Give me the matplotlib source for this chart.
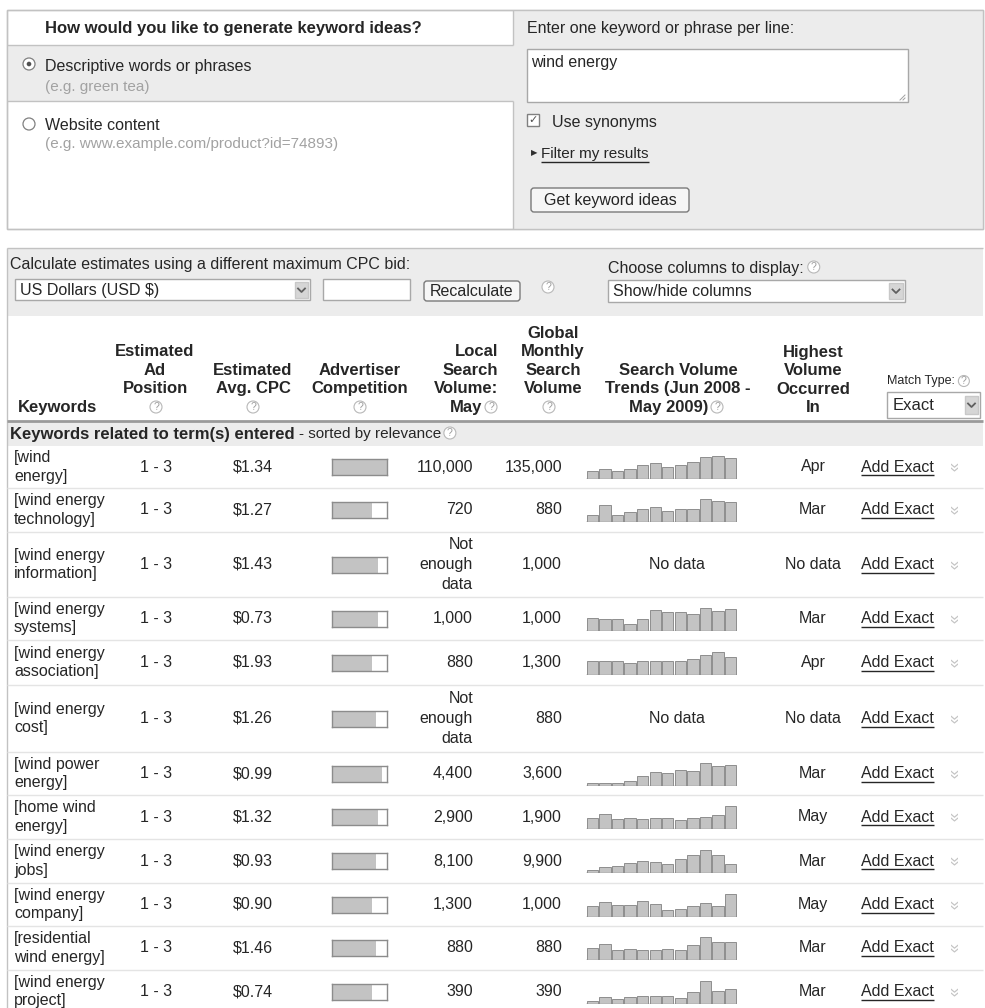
import matplotlib
matplotlib.use('Agg')
import matplotlib.pyplot as plt
from matplotlib.patches import Rectangle, Circle, FancyBboxPatch

plt.rcParams['font.family'] = ['Liberation Sans', 'DejaVu Sans']
plt.rcParams['text.parse_math'] = False

W, H = 985, 1008

# table data
keywords = ["[wind\nenergy]", "[wind energy\ntechnology]", "[wind energy\ninformation]",
            "[wind energy\nsystems]", "[wind energy\nassociation]", "[wind energy\ncost]",
            "[wind power\nenergy]", "[home wind\nenergy]", "[wind energy\njobs]",
            "[wind energy\ncompany]", "[residential\nwind energy]", "[wind energy\nproject]"]
ad_position = ["1 - 3"] * 12
avg_cpc = ["$1.34", "$1.27", "$1.43", "$0.73", "$1.93", "$1.26",
           "$0.99", "$1.32", "$0.93", "$0.90", "$1.46", "$0.74"]
competition = [1.0, 0.73, 0.84, 0.84, 0.73, 0.80, 0.91, 0.84, 0.80, 0.73, 0.80, 0.73]
local_volume = ["110,000", "720", "Not\nenough\ndata", "1,000", "880", "Not\nenough\ndata",
                "4,400", "2,900", "8,100", "1,300", "880", "390"]
global_volume = ["135,000", "880", "1,000", "1,000", "1,300", "880",
                 "3,600", "1,900", "9,900", "1,000", "880", "390"]
# Jun 2008 .. May 2009, relative heights
trends = [
    [.35, .43, .35, .46, .63, .71, .55, .63, .77, .98, 1.0, .95],
    [.33, .76, .33, .45, .58, .65, .50, .58, .58, 1.0, .94, .88],
    None,
    [.57, .49, .49, .31, .49, .90, .82, .82, .74, 1.0, .87, .97],
    [.58, .58, .58, .52, .58, .58, .58, .58, .70, .88, 1.0, .76],
    None,
    [.12, .12, .12, .20, .40, .60, .55, .70, .65, 1.0, .85, .90],
    [.50, .65, .45, .50, .45, .50, .50, .40, .50, .55, .60, 1.0],
    [.15, .25, .30, .45, .55, .50, .42, .60, .80, 1.0, .80, .40],
    [.45, .65, .50, .50, .70, .55, .30, .35, .45, .60, .45, 1.0],
    [.55, .70, .45, .50, .45, .45, .50, .45, .65, 1.0, .80, .80],
    [.10, .30, .20, .30, .35, .35, .35, .25, .50, 1.0, .55, .65],
]
highest = ["Apr", "Mar", "No data", "Mar", "Apr", "No data",
           "Mar", "May", "Mar", "May", "Mar", "Mar"]

row_edges = [446, 488, 532, 597, 640, 685, 752, 795, 839, 883, 926, 970, 1013]

PANEL = '#ececec'
BORDER = '#c2c2c2'
TXT = '#262626'
LIGHT = '#a2a2a2'
FS = 11.5
FB = 12

fig = plt.figure(figsize=(W / 100, H / 100), dpi=100)
fig.patch.set_facecolor('white')
ax = fig.add_axes([0, 0, 1, 1])
ax.set_xlim(0, W)
ax.set_ylim(H, 0)
ax.axis('off')
renderer = fig.canvas.get_renderer()


def box(x0, y0, x1, y1, fc='white', ec=BORDER, lw=1.0, z=1):
    ax.add_patch(Rectangle((x0, y0), x1 - x0, y1 - y0, facecolor=fc,
                           edgecolor=ec, linewidth=lw, zorder=z))


def button(x0, y0, x1, y1, label):
    ax.add_patch(FancyBboxPatch((x0, y0), x1 - x0, y1 - y0,
                                boxstyle='round,pad=0,rounding_size=3',
                                facecolor='#f6f6f6', edgecolor='#7a7a7a', lw=1.0, zorder=3))
    ax.text((x0 + x1) / 2, (y0 + y1) / 2 + 1, label, ha='center', va='center',
            fontsize=FS, color=TXT, zorder=4)


def hline(y, x0, x1, color=BORDER, lw=1.0, z=2):
    ax.plot([x0, x1], [y, y], color=color, lw=lw, zorder=z, solid_capstyle='butt')


def vline(x, y0, y1, color=BORDER, lw=1.0, z=2):
    ax.plot([x, x], [y0, y1], color=color, lw=lw, zorder=z, solid_capstyle='butt')


def help_icon(x, y, r=6):
    ax.add_patch(Circle((x, y), r, facecolor='white', edgecolor='#b8b8b8', lw=0.8, zorder=5))
    ax.text(x, y + 0.5, '?', fontsize=7.5, color='#9c9c9c', ha='center', va='center', zorder=6)


def extent(t):
    bb = t.get_window_extent(renderer=renderer)
    inv = ax.transData.inverted()
    (x0, ya), (x1, yb) = inv.transform([[bb.x0, bb.y0], [bb.x1, bb.y1]])
    return x0, x1, min(ya, yb), max(ya, yb)


def drop_arrow(x0, y0, x1, y1):
    box(x0, y0, x1, y1, fc='#d6d6d6', ec='#c8c8c8', z=4)
    cx, cy = (x0 + x1) / 2, (y0 + y1) / 2
    ax.plot([cx - 3.5, cx, cx + 3.5], [cy - 1.5, cy + 2, cy - 1.5], color='#606060', lw=1.3, zorder=5)


def underline(t, dy=7):
    x0, x1, _, _ = extent(t)
    y = t.get_position()[1]
    hline(y + dy, x0, x1, color=TXT, lw=1.0, z=5)


# ---------------- top form ----------------
box(7, 10, 983, 229, fc='white', ec=BORDER)
box(513, 10, 983, 229, fc=PANEL, ec='none', z=1.5)
box(7, 45, 513, 101, fc=PANEL, ec='none', z=1.5)
hline(10, 7, 983)
hline(229, 7, 983)
hline(45, 7, 513)
hline(101, 7, 513)
vline(7, 10, 229)
vline(983, 10, 229)
vline(513, 10, 45)
vline(513, 101, 229)

ax.text(233, 28, "How would you like to generate keyword ideas?", ha='center', va='center',
        fontsize=FB, fontweight='bold', color=TXT)
ax.add_patch(Circle((29, 64), 6, facecolor='white', edgecolor='#808080', lw=0.9, zorder=4))
ax.add_patch(Circle((29, 64), 2.3, facecolor='#505050', edgecolor='none', zorder=5))
ax.text(45, 66, "Descriptive words or phrases", va='center', fontsize=FS, color=TXT)
ax.text(45, 87, "(e.g. green tea)", va='center', fontsize=FS - 0.5, color=LIGHT)
ax.add_patch(Circle((29, 124), 6, facecolor='white', edgecolor='#808080', lw=0.9, zorder=4))
ax.text(45, 125, "Website content", va='center', fontsize=FS, color=TXT)
ax.text(45, 144, "(e.g. www.example.com/product?id=74893)", va='center', fontsize=FS - 0.5, color=LIGHT)

ax.text(527, 28, "Enter one keyword or phrase per line:", va='center', fontsize=FS, color=TXT)
box(527, 49, 908, 102, fc='white', ec='#a8a8a8', z=3)
ax.text(531, 62, "wind energy", va='center', fontsize=FS, color=TXT, zorder=4)
ax.plot([900, 905], [100, 95], color='#a0a0a0', lw=0.7, zorder=4)
ax.plot([903, 905], [100, 98], color='#a0a0a0', lw=0.7, zorder=4)
box(527, 114, 539, 126, fc='white', ec='#808080', z=3)
ax.text(533, 120.5, '\u2713', ha='center', va='center', fontsize=8, color='#505050', zorder=4)
ax.text(552, 122, "Use synonyms", va='center', fontsize=FS, color=TXT)
ax.text(531, 154, '\u25B6', va='center', fontsize=6, color='#303030')
t = ax.text(541, 154, "Filter my results", va='center', fontsize=FS - 0.5, color=TXT)
underline(t, dy=8)
button(531, 188, 689, 212, "Get keyword ideas")

# ---------------- estimates bar ----------------
box(7, 248, 983, 316, fc=PANEL, ec='none', z=1.5)
hline(248, 7, 983)
vline(7, 248, H)
ax.text(10, 264, "Calculate estimates using a different maximum CPC bid:", va='center',
        fontsize=FS, color=TXT)
box(15, 279, 310, 300, fc='white', ec='#a8a8a8', z=3)
ax.text(20, 290, "US Dollars (USD $)", va='center', fontsize=FS, color=TXT, zorder=4)
drop_arrow(295, 282, 308, 298)
box(323, 279, 410, 300, fc='white', ec='#a8a8a8', z=3)
button(424, 281, 520, 301, "Recalculate")
help_icon(548, 287)
t = ax.text(608, 268, "Choose columns to display:", va='center', fontsize=FS, color=TXT)
help_icon(extent(t)[1] + 10, 267)
box(608, 280, 905, 302, fc='white', ec='#a8a8a8', z=3)
ax.text(613, 291, "Show/hide columns", va='center', fontsize=FS, color=TXT, zorder=4)
drop_arrow(889, 283, 903, 299)

# ---------------- column headers ----------------
HB = dict(fontsize=FB, fontweight='bold', color=TXT, linespacing=1.28, va='baseline')
ax.text(18, 412, "Keywords", ha='left', **HB)
ax.text(155, 393, "Estimated\nAd\nPosition", ha='center', multialignment='center', **HB)
help_icon(156, 407)
ax.text(253, 393, "Estimated\nAvg. CPC", ha='center', multialignment='center', **HB)
help_icon(253, 407)
ax.text(360, 393, "Advertiser\nCompetition", ha='center', multialignment='center', **HB)
help_icon(360, 407)
ax.text(498, 393, "Local\nSearch\nVolume:", ha='right', multialignment='right', **HB)
ax.text(482, 412, "May", ha='right', **HB)
help_icon(491, 407)
ax.text(553, 393, "Global\nMonthly\nSearch\nVolume", ha='center', multialignment='center', **HB)
help_icon(549, 407)
ax.text(678, 393, "Search Volume\nTrends (Jun 2008 -", ha='center', multialignment='center', **HB)
ax.text(708, 412, "May 2009)", ha='right', **HB)
help_icon(717, 407)
ax.text(813, 412, "Highest\nVolume\nOccurred\nIn", ha='center', multialignment='center', **HB)
t = ax.text(887, 381, "Match Type:", va='center', fontsize=9, color=TXT)
help_icon(extent(t)[1] + 9, 381, r=5.5)
box(887, 392, 980, 418, fc='white', ec='#a8a8a8', z=3)
ax.text(893, 405, "Exact", va='center', fontsize=FS + 0.5, color=TXT, zorder=4)
drop_arrow(965, 396, 978, 414)

hline(421, 7, 983, color='#9a9a9a', lw=2.0, z=3)
box(7, 422, 983, 446, fc=PANEL, ec='none', z=1.5)
t1 = ax.text(10, 434, "Keywords related to term(s) entered", va='center', fontsize=FB,
             fontweight='bold', color=TXT)
t2 = ax.text(extent(t1)[1] + 4, 434, "- sorted by relevance", va='center', fontsize=FS - 0.5, color=TXT)
help_icon(extent(t2)[1] + 9, 433)

# ---------------- data rows ----------------
for i in range(len(keywords)):
    top, bot = row_edges[i], row_edges[i + 1]
    c = (top + bot) / 2
    if i > 0:
        hline(top, 7, 983, color='#e4e4e4')
    ax.text(14, c, keywords[i], ha='left', va='center', fontsize=FS, color=TXT, linespacing=1.3)
    ax.text(156, c, ad_position[i], ha='center', va='center', fontsize=FS, color=TXT)
    ax.text(253, c, avg_cpc[i], ha='center', va='center', fontsize=FS, color=TXT)

    cax = fig.add_axes([332 / W, 1 - (c + 8) / H, 55 / W, 16 / H])
    cax.barh([0], [competition[i]], height=1.0, color='#c3c3c3', edgecolor='none')
    cax.set_xlim(0, 1)
    cax.set_ylim(-0.5, 0.5)
    cax.set_xticks([])
    cax.set_yticks([])
    for s in cax.spines.values():
        s.set_color('#8c8c8c')
        s.set_linewidth(1.0)

    ax.text(473, c, local_volume[i], ha='right', va='center', multialignment='right',
            fontsize=FS, color=TXT, linespacing=1.4)
    ax.text(562, c, global_volume[i], ha='right', va='center', fontsize=FS, color=TXT)

    if trends[i] is None:
        ax.text(677, c, "No data", ha='center', va='center', fontsize=FS, color=TXT)
    else:
        sax = fig.add_axes([586 / W, 1 - (c + 12) / H, 151 / W, 23 / H])
        sax.bar(range(12), trends[i], width=0.9, color='#c3c3c3', edgecolor='#8e8e8e', linewidth=0.7)
        sax.axhline(0, color='#8e8e8e', lw=1.0)
        sax.set_xlim(-0.5, 11.5)
        sax.set_ylim(0, 1.02)
        sax.axis('off')

    ax.text(813, c, highest[i], ha='center', va='center', fontsize=FS, color=TXT)
    t = ax.text(861, c, "Add Exact", ha='left', va='center', fontsize=FS, color=TXT)
    underline(t, dy=8)
    ax.text(953, c, '\u00bb', ha='center', va='center', rotation=-90, fontsize=12, color='#c4c4c4')

fig.savefig('out.png', dpi=100)
